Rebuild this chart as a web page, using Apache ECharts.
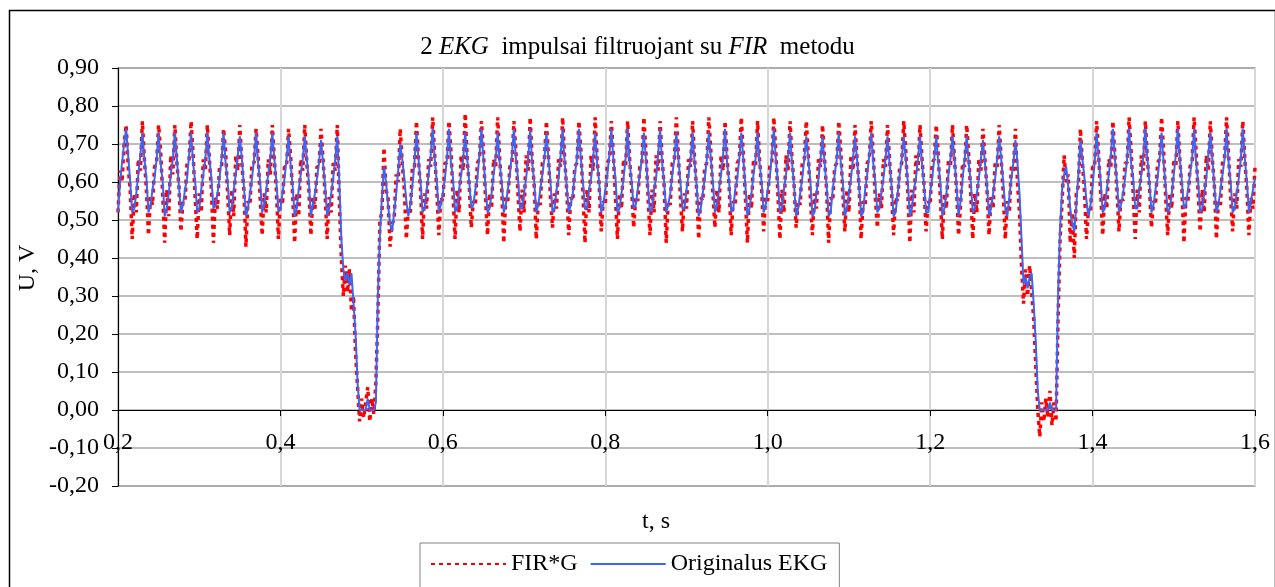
<!DOCTYPE html>
<html>
<head>
<meta charset="utf-8">
<script src="https://cdn.jsdelivr.net/npm/echarts@6/dist/echarts.min.js"></script>
<style>
  html, body { margin: 0; padding: 0; background: #ffffff; }
  #chart { width: 1275px; height: 587px; }
</style>
</head>
<body>
<div id="chart"></div>
<script>
// Sampling grid of both signals (seconds)
const timeStart = 0.2;
const timeStep = 0.0025;

// Original ECG with mains interference, V
const originalEkg = [
  0.52,0.60,0.65,0.70,0.74,0.67,0.60,0.52,
  0.53,0.57,0.62,0.67,0.73,0.66,0.61,0.52,
  0.54,0.58,0.61,0.66,0.73,0.65,0.60,0.51,
  0.53,0.57,0.62,0.66,0.73,0.66,0.59,0.52,
  0.54,0.58,0.61,0.67,0.73,0.65,0.60,0.52,
  0.53,0.58,0.62,0.66,0.73,0.66,0.61,0.53,
  0.54,0.57,0.61,0.66,0.73,0.65,0.60,0.52,
  0.53,0.58,0.62,0.67,0.72,0.66,0.59,0.51,
  0.53,0.57,0.61,0.66,0.73,0.65,0.60,0.52,
  0.54,0.58,0.62,0.66,0.73,0.66,0.60,0.52,
  0.53,0.57,0.61,0.66,0.72,0.65,0.59,0.51,
  0.53,0.58,0.62,0.66,0.72,0.66,0.60,0.51,
  0.54,0.57,0.61,0.65,0.71,0.65,0.59,0.51,
  // first impulse
  0.53,0.57,0.61,0.66,0.72,0.60,0.45,0.37,
  0.34,0.36,0.33,0.36,0.28,0.20,0.07,0.00,
  0.00,0.00,0.00,0.03,0.00,0.00,0.00,0.02,
  0.30,0.46,0.56,0.64,0.60,0.54,0.49,0.47,
  0.52,0.57,0.63,0.70,0.66,0.61,0.55,0.51,
  0.54,0.59,0.65,0.73,0.66,0.60,0.52,
  // baseline between impulses
  0.53,0.58,0.62,0.67,0.74,0.66,0.60,0.52,
  0.54,0.57,0.61,0.66,0.74,0.65,0.61,0.52,
  0.53,0.58,0.62,0.66,0.73,0.66,0.60,0.53,
  0.54,0.58,0.61,0.67,0.74,0.66,0.59,0.52,
  0.53,0.57,0.62,0.66,0.73,0.65,0.60,0.52,
  0.54,0.58,0.62,0.67,0.74,0.66,0.61,0.53,
  0.53,0.57,0.61,0.66,0.74,0.65,0.60,0.52,
  0.54,0.58,0.62,0.66,0.73,0.66,0.60,0.52,
  0.53,0.58,0.61,0.67,0.74,0.65,0.59,0.52,
  0.54,0.57,0.62,0.66,0.74,0.66,0.60,0.53,
  0.53,0.58,0.61,0.66,0.73,0.65,0.60,0.52,
  0.54,0.58,0.62,0.67,0.74,0.66,0.61,0.52,
  0.53,0.57,0.61,0.66,0.74,0.65,0.60,0.53,
  0.54,0.58,0.62,0.66,0.73,0.66,0.59,0.52,
  0.53,0.58,0.61,0.67,0.74,0.65,0.60,0.52,
  0.54,0.57,0.62,0.66,0.73,0.66,0.60,0.53,
  0.53,0.58,0.62,0.66,0.73,0.65,0.59,0.51,
  0.53,0.57,0.61,0.66,0.73,0.66,0.60,0.52,
  0.54,0.58,0.62,0.67,0.74,0.65,0.60,0.52,
  0.53,0.58,0.61,0.66,0.73,0.66,0.59,0.51,
  0.53,0.57,0.62,0.66,0.73,0.65,0.60,0.52,
  0.54,0.58,0.61,0.67,0.74,0.66,0.60,0.52,
  0.53,0.58,0.62,0.66,0.73,0.65,0.59,0.51,
  0.53,0.57,0.61,0.66,0.72,0.66,0.60,0.51,
  0.52,0.57,0.61,0.66,0.72,0.65,0.59,0.51,
  0.52,0.58,0.62,0.66,0.73,0.65,0.60,0.51,
  0.53,0.57,0.61,0.66,0.72,0.66,0.59,0.51,
  0.52,0.58,0.62,0.67,0.73,0.65,0.60,0.52,
  0.53,0.57,0.61,0.66,0.72,0.65,0.59,0.51,
  0.52,0.57,0.62,0.66,0.72,0.66,0.60,0.51,
  0.53,0.58,0.61,0.66,0.72,0.65,0.59,0.52,
  0.52,0.57,0.61,0.66,0.72,0.65,0.60,0.51,
  0.53,0.57,0.62,0.66,0.72,0.66,0.59,0.51,
  0.55,0.61,0.66,0.72,0.65,0.60,0.52,
  0.53,0.57,0.61,0.66,0.71,0.65,0.59,0.51,
  // second impulse
  0.53,0.57,0.61,0.66,0.72,0.66,0.60,0.53,
  0.51,0.56,0.61,0.65,0.71,0.65,0.57,0.45,
  0.33,0.35,0.32,0.35,0.36,0.28,0.18,0.05,
  0.00,0.00,0.00,0.00,0.00,0.02,0.00,0.00,
  0.00,0.30,0.48,0.58,0.62,0.64,0.59,0.53,
  0.49,0.47,0.54,0.62,0.71,0.66,0.61,0.55,
  0.51,0.54,0.59,0.65,0.73,0.66,0.60,0.52,
  // tail
  0.53,0.58,0.62,0.67,0.74,0.66,0.60,0.52,
  0.54,0.57,0.61,0.66,0.74,0.65,0.61,0.53,
  0.53,0.58,0.62,0.67,0.74,0.66,0.60,0.52,
  0.54,0.58,0.61,0.66,0.73,0.65,0.59,0.52,
  0.53,0.57,0.62,0.67,0.74,0.66,0.60,0.53,
  0.54,0.58,0.62,0.66,0.74,0.65,0.60,0.52,
  0.53,0.57,0.61,0.67,0.73,0.66,0.59,0.52,
  0.54,0.58,0.62,0.66,0.74,0.65,0.60,0.52,
  0.53,0.57,0.61,0.66,0.74,0.66,0.60,0.52,
  0.55,0.58,0.61
];

// FIR-filtered output (FIR*G), V
const firFiltered = [
  0.52,0.63,0.60,0.70,0.75,0.64,0.58,0.45,
  0.57,0.52,0.66,0.63,0.76,0.66,0.58,0.46,
  0.56,0.54,0.64,0.65,0.75,0.68,0.57,0.44,
  0.58,0.51,0.67,0.62,0.75,0.65,0.59,0.47,
  0.55,0.55,0.65,0.66,0.76,0.67,0.56,0.45,
  0.57,0.52,0.66,0.63,0.75,0.66,0.58,0.44,
  0.56,0.53,0.64,0.64,0.74,0.68,0.57,0.46,
  0.58,0.51,0.67,0.63,0.75,0.65,0.58,0.43,
  0.55,0.54,0.65,0.65,0.74,0.67,0.56,0.46,
  0.57,0.52,0.66,0.62,0.75,0.66,0.58,0.45,
  0.56,0.54,0.64,0.64,0.74,0.67,0.57,0.44,
  0.57,0.51,0.66,0.63,0.75,0.65,0.58,0.46,
  0.56,0.53,0.64,0.64,0.74,0.66,0.57,0.45,
  // first impulse
  0.56,0.52,0.65,0.63,0.75,0.55,0.40,0.30,
  0.38,0.31,0.37,0.26,0.30,0.15,0.06,-0.03,
  0.03,-0.02,0.02,0.06,-0.03,0.03,-0.01,0.07,
  0.25,0.50,0.52,0.69,0.58,0.56,0.43,0.49,
  0.50,0.62,0.60,0.74,0.65,0.58,0.45,0.53,
  0.52,0.64,0.64,0.76,0.66,0.58,0.45,
  // baseline between impulses
  0.57,0.53,0.66,0.64,0.77,0.67,0.58,0.46,
  0.56,0.55,0.65,0.65,0.76,0.68,0.57,0.45,
  0.58,0.52,0.67,0.63,0.78,0.66,0.59,0.48,
  0.55,0.54,0.65,0.66,0.76,0.68,0.56,0.46,
  0.57,0.53,0.66,0.64,0.77,0.66,0.58,0.44,
  0.56,0.55,0.64,0.65,0.76,0.68,0.57,0.47,
  0.58,0.52,0.67,0.63,0.77,0.66,0.59,0.45,
  0.55,0.54,0.65,0.66,0.76,0.67,0.56,0.48,
  0.57,0.53,0.66,0.64,0.77,0.66,0.58,0.46,
  0.56,0.55,0.64,0.65,0.76,0.68,0.57,0.44,
  0.58,0.52,0.67,0.63,0.77,0.66,0.59,0.47,
  0.55,0.54,0.65,0.66,0.76,0.67,0.56,0.45,
  0.57,0.53,0.66,0.64,0.76,0.66,0.58,0.48,
  0.56,0.55,0.64,0.65,0.77,0.68,0.57,0.46,
  0.58,0.52,0.67,0.63,0.76,0.66,0.59,0.44,
  0.55,0.54,0.65,0.66,0.77,0.67,0.56,0.47,
  0.57,0.53,0.66,0.64,0.76,0.66,0.58,0.45,
  0.56,0.55,0.64,0.65,0.77,0.68,0.57,0.48,
  0.58,0.52,0.67,0.63,0.76,0.66,0.59,0.46,
  0.55,0.54,0.65,0.66,0.77,0.67,0.56,0.44,
  0.57,0.53,0.66,0.64,0.76,0.66,0.58,0.47,
  0.56,0.55,0.64,0.65,0.77,0.68,0.57,0.45,
  0.58,0.52,0.67,0.63,0.76,0.66,0.59,0.48,
  0.55,0.54,0.65,0.66,0.76,0.67,0.56,0.46,
  0.57,0.53,0.66,0.64,0.75,0.66,0.58,0.44,
  0.56,0.55,0.64,0.65,0.76,0.68,0.57,0.47,
  0.58,0.52,0.67,0.63,0.75,0.66,0.59,0.45,
  0.55,0.54,0.65,0.66,0.76,0.67,0.56,0.48,
  0.57,0.53,0.66,0.64,0.75,0.66,0.58,0.46,
  0.56,0.55,0.64,0.65,0.76,0.68,0.57,0.44,
  0.58,0.52,0.67,0.63,0.75,0.66,0.59,0.47,
  0.55,0.54,0.65,0.66,0.75,0.67,0.56,0.45,
  0.57,0.53,0.66,0.64,0.75,0.66,0.58,0.46,
  0.54,0.65,0.64,0.75,0.67,0.57,0.45,
  0.57,0.52,0.66,0.63,0.74,0.66,0.58,0.46,
  // second impulse
  0.56,0.53,0.65,0.64,0.75,0.66,0.57,0.45,
  0.55,0.52,0.64,0.63,0.74,0.60,0.52,0.38,
  0.28,0.37,0.30,0.38,0.31,0.24,0.12,0.00,
  -0.07,0.02,-0.03,0.03,-0.02,0.05,-0.04,0.02,
  -0.03,0.24,0.45,0.55,0.67,0.60,0.62,0.44,
  0.52,0.40,0.57,0.59,0.74,0.65,0.58,0.45,
  0.53,0.52,0.64,0.64,0.76,0.67,0.57,0.46,
  // tail
  0.57,0.53,0.66,0.64,0.76,0.67,0.58,0.47,
  0.56,0.55,0.65,0.65,0.77,0.68,0.57,0.45,
  0.58,0.52,0.67,0.63,0.76,0.66,0.59,0.48,
  0.55,0.54,0.65,0.66,0.77,0.68,0.56,0.46,
  0.57,0.53,0.66,0.64,0.76,0.66,0.58,0.44,
  0.56,0.55,0.64,0.65,0.77,0.68,0.57,0.47,
  0.58,0.52,0.67,0.63,0.76,0.66,0.59,0.45,
  0.55,0.54,0.65,0.66,0.77,0.67,0.56,0.47,
  0.57,0.53,0.66,0.64,0.76,0.66,0.58,0.46,
  0.56,0.53,0.64
];

const seriesNames = ['FIR*G', 'Originalus EKG'];
const xTickLabels = ['0,2', '0,4', '0,6', '0,8', '1,0', '1,2', '1,4', '1,6'];
const yTickLabels = ['-0,20', '-0,10', '0,00', '0,10', '0,20', '0,30', '0,40',
                     '0,50', '0,60', '0,70', '0,80', '0,90'];

const FONT = "'Liberation Serif', 'Times New Roman', serif";

const toPoints = vals => vals.map((v, i) => [+(timeStart + i * timeStep).toFixed(4), v]);

const chart = echarts.init(document.getElementById('chart'), null, { renderer: 'canvas' });

// plot box geometry (px); the time axis sits on U = 0, which lies 0.2 V above the bottom
const gridTop = 68, gridBottom = 101, plotHeight = 587 - gridTop - gridBottom;
const yMin = -0.2, yMax = 0.9;
const zeroLift = plotHeight * (0 - yMin) / (yMax - yMin);

chart.setOption({
  animation: false,
  backgroundColor: '#ffffff',
  textStyle: { fontFamily: FONT, color: '#000' },
  title: {
    left: 'center',
    top: 30,
    text: '{n|2 }{i|EKG}{n|  impulsai filtruojant su }{i|FIR}{n|  metodu}',
    textStyle: {
      fontWeight: 'normal',
      rich: {
        n: { fontFamily: FONT, fontSize: 25, fontWeight: 'normal', color: '#000' },
        i: { fontFamily: FONT, fontSize: 25, fontWeight: 'normal', fontStyle: 'italic', color: '#000' }
      }
    }
  },
  legend: {
    left: 420,
    top: 543,
    padding: [9, 12, 12, 10],
    itemGap: 12,
    itemWidth: 75,
    itemHeight: 14,
    borderColor: '#808080',
    borderWidth: 1,
    data: seriesNames,
    itemStyle: { opacity: 0 },
    textStyle: { fontFamily: FONT, fontSize: 24, color: '#000' }
  },
  grid: {
    left: 118, right: 20, top: gridTop, bottom: gridBottom,
    show: true,
    borderColor: '#a0a0a0',
    borderWidth: 1.5,
    backgroundColor: 'transparent'
  },
  xAxis: {
    type: 'value',
    min: 0.2, max: 1.6, interval: 0.2,
    position: 'bottom',
    offset: -zeroLift,
    axisLine: { onZero: false, lineStyle: { color: '#000', width: 1.2 } },
    axisTick: { show: true, inside: false, length: 6, lineStyle: { color: '#000' } },
    axisLabel: {
      margin: 21,
      fontFamily: FONT, fontSize: 24, color: '#000',
      formatter: v => xTickLabels[Math.round((v - 0.2) / 0.2)]
    },
    splitLine: { show: true, lineStyle: { color: '#d6d6d6', width: 2 } }
  },
  yAxis: {
    type: 'value',
    min: yMin, max: yMax, interval: 0.1,
    axisLine: { show: true, lineStyle: { color: '#000', width: 1.2 } },
    axisTick: { show: true, inside: false, length: 6, lineStyle: { color: '#000' } },
    axisLabel: {
      margin: 19,
      fontFamily: FONT, fontSize: 24, color: '#000',
      formatter: v => yTickLabels[Math.round((v + 0.2) / 0.1)]
    },
    splitLine: { show: true, lineStyle: { color: '#a8a8a8', width: 1.5 } }
  },
  graphic: [
    {
      type: 'rect', left: 7, top: 8, silent: true,
      shape: { width: 1266, height: 600 },
      style: { fill: null, stroke: '#000', lineWidth: 1.5 }
    },
    {
      type: 'text', silent: true, x: 28, y: 268, rotation: Math.PI / 2,
      style: { text: 'U, V', fontFamily: FONT, fontSize: 24, fill: '#000',
               align: 'center', verticalAlign: 'middle' }
    },
    {
      type: 'text', silent: true, x: 656, y: 522,
      style: { text: 't, s', fontFamily: FONT, fontSize: 24, fill: '#000',
               align: 'center', verticalAlign: 'middle' }
    }
  ],
  series: [
    {
      name: seriesNames[0],
      type: 'line',
      data: toPoints(firFiltered),
      showSymbol: false,
      symbol: 'none',
      silent: true,
      lineStyle: { color: '#ff0000', width: 3.5, type: [4, 4], cap: 'butt' },
      itemStyle: { color: '#ff0000' },
      z: 2
    },
    {
      name: seriesNames[1],
      type: 'line',
      data: toPoints(originalEkg),
      showSymbol: false,
      symbol: 'none',
      silent: true,
      lineStyle: { color: '#3a66f5', width: 2 },
      itemStyle: { color: '#3a66f5' },
      z: 3
    }
  ]
});
</script>
</body>
</html>
